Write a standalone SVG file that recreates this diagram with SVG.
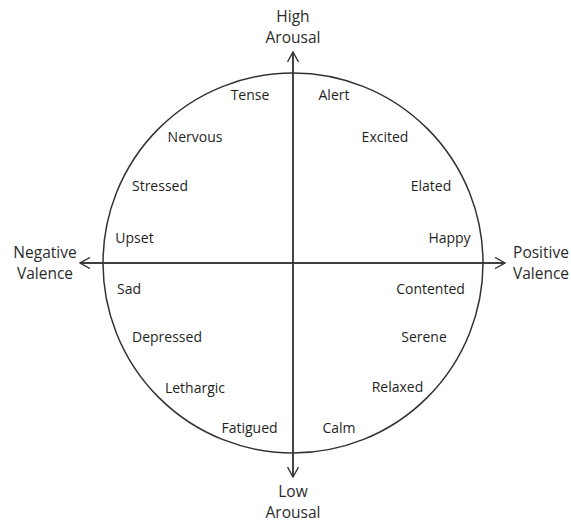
<svg xmlns="http://www.w3.org/2000/svg" width="571" height="525" viewBox="0 0 571 525">
  <style>
    .emo { font-family: "Open Sans", "Liberation Sans", sans-serif; font-size: 14px; fill: #1f1f1f; text-anchor: middle; }
    .axis-label { font-family: "Open Sans", "Liberation Sans", sans-serif; font-size: 15.5px; fill: #2b2b2b; text-anchor: middle; }
    .axis { stroke: #333; stroke-width: 1.4; fill: none; }
    .ring { stroke: #333; stroke-width: 1.5; fill: none; }
  </style>
  <defs>
    <marker id="chevron" viewBox="0 0 12 12" refX="11" refY="6" markerWidth="12" markerHeight="12" markerUnits="userSpaceOnUse" orient="auto">
      <path d="M1,0.5 L11,6 L1,11.5" fill="none" stroke="#333" stroke-width="1.4"/>
    </marker>
  </defs>
  <rect width="571" height="525" fill="#ffffff"/>

  <!-- circumplex ring -->
  <g id="ring">
    <circle class="ring" cx="293" cy="263" r="190"/>
  </g>

  <!-- valence and arousal axes -->
  <g id="connectors">
    <line class="axis" x1="293" y1="477" x2="293" y2="52" marker-end="url(#chevron)"/>
    <line class="axis" x1="293" y1="52" x2="293" y2="477" marker-end="url(#chevron)"/>
    <line class="axis" x1="505" y1="263" x2="80" y2="263" marker-end="url(#chevron)"/>
    <line class="axis" x1="80" y1="263" x2="505" y2="263" marker-end="url(#chevron)"/>
  </g>

  <!-- axis poles -->
  <g id="high-arousal"><text class="axis-label" x="293" y="22">High</text><text class="axis-label" x="293" y="43">Arousal</text></g>
  <g id="low-arousal"><text class="axis-label" x="293" y="497">Low</text><text class="axis-label" x="293" y="518">Arousal</text></g>
  <g id="negative-valence"><text class="axis-label" x="45" y="258">Negative</text><text class="axis-label" x="45" y="279">Valence</text></g>
  <g id="positive-valence"><text class="axis-label" x="541" y="258">Positive</text><text class="axis-label" x="541" y="279">Valence</text></g>

  <!-- affect words -->
  <g id="tense"><text class="emo" x="250" y="100">Tense</text></g>
  <g id="alert"><text class="emo" x="334" y="100">Alert</text></g>
  <g id="nervous"><text class="emo" x="195" y="142">Nervous</text></g>
  <g id="excited"><text class="emo" x="385" y="142">Excited</text></g>
  <g id="stressed"><text class="emo" x="160" y="191">Stressed</text></g>
  <g id="elated"><text class="emo" x="431" y="191">Elated</text></g>
  <g id="upset"><text class="emo" x="134.5" y="243">Upset</text></g>
  <g id="happy"><text class="emo" x="449.5" y="243">Happy</text></g>
  <g id="sad"><text class="emo" x="129" y="294">Sad</text></g>
  <g id="contented"><text class="emo" x="430.5" y="294">Contented</text></g>
  <g id="depressed"><text class="emo" x="167" y="342">Depressed</text></g>
  <g id="serene"><text class="emo" x="424" y="342">Serene</text></g>
  <g id="lethargic"><text class="emo" x="195" y="393">Lethargic</text></g>
  <g id="relaxed"><text class="emo" x="397.5" y="392">Relaxed</text></g>
  <g id="fatigued"><text class="emo" x="249.5" y="433">Fatigued</text></g>
  <g id="calm"><text class="emo" x="339" y="433">Calm</text></g>
</svg>
